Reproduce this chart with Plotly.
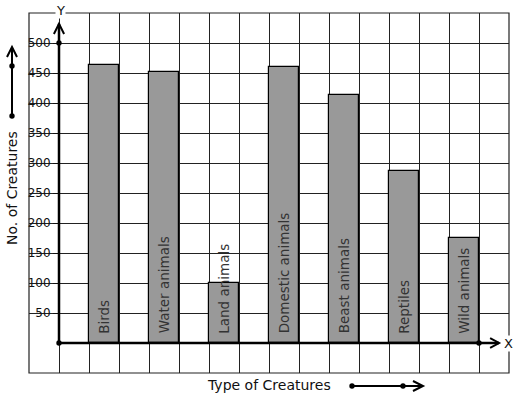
import plotly.graph_objects as go

categories = ["Birds", "Water animals", "Land animals", "Domestic animals",
              "Beast animals", "Reptiles", "Wild animals"]
values = [463, 452, 100, 460, 413, 286, 175]
y_ticks = [50, 100, 150, 200, 250, 300, 350, 400, 450, 500]

W, H = 517, 399
L, R, T, B = 29, 8, 13, 26
PW, PH = W - L - R, H - T - B

def px(x):
    return (x - L) / PW

def py(y):
    return (H - B - y) / PH

FONT = "DejaVu Sans"
xpos = [1.5 + 2 * i for i in range(len(categories))]

fig = go.Figure()
fig.add_trace(go.Bar(
    x=xpos, y=values, width=1,
    marker=dict(color="rgb(153,153,153)", line=dict(color="black", width=1.2)),
    showlegend=False, hoverinfo="skip",
))

shapes = []
# outer border
shapes.append(dict(type="rect", xref="paper", yref="paper", x0=0, x1=1, y0=0, y1=1,
                   line=dict(color="#222", width=1.2), layer="above"))
# axes
shapes.append(dict(type="line", xref="x", yref="y", x0=0, y0=0, x1=0, y1=532,
                   line=dict(color="black", width=2.5), layer="above"))
shapes.append(dict(type="path", xref="x", yref="y",
                   path="M -0.17 515 L 0 532 L 0.17 515",
                   line=dict(color="black", width=2), layer="above"))
shapes.append(dict(type="line", xref="x", yref="y", x0=0, y0=0, x1=14.67, y1=0,
                   line=dict(color="black", width=2.5), layer="above"))
shapes.append(dict(type="path", xref="x", yref="y",
                   path="M 14.37 8.3 L 14.67 0 L 14.37 -8.3",
                   line=dict(color="black", width=2), layer="above"))
# left decorative arrow
shapes.append(dict(type="line", xref="paper", yref="paper",
                   x0=px(12), y0=py(116), x1=px(12), y1=py(47),
                   line=dict(color="black", width=2)))
shapes.append(dict(type="path", xref="paper", yref="paper",
                   path=f"M {px(7)} {py(57)} L {px(12)} {py(47)} L {px(17)} {py(57)}",
                   line=dict(color="black", width=2)))
# bottom decorative arrow
shapes.append(dict(type="line", xref="paper", yref="paper",
                   x0=px(352), y0=py(386), x1=px(423), y1=py(386),
                   line=dict(color="black", width=2)))
shapes.append(dict(type="path", xref="paper", yref="paper",
                   path=f"M {px(413)} {py(381)} L {px(423)} {py(386)} L {px(413)} {py(391)}",
                   line=dict(color="black", width=2)))

def dot(xref, yref, x, y):
    return dict(type="circle", xref=xref, yref=yref, xsizemode="pixel", ysizemode="pixel",
                xanchor=x, yanchor=y, x0=-2.7, x1=2.7, y0=-2.7, y1=2.7,
                fillcolor="black", line=dict(color="black", width=0), layer="above")

shapes += [dot("x", "y", 0, 0), dot("x", "y", 0, 500), dot("x", "y", 14, 0),
           dot("paper", "paper", px(12), py(66)), dot("paper", "paper", px(12), py(116)),
           dot("paper", "paper", px(352), py(386)), dot("paper", "paper", px(403), py(386))]

annotations = []
for x, c in zip(xpos, categories):
    annotations.append(dict(x=x, y=12, xref="x", yref="y", text=c, showarrow=False,
                            textangle=-90, xanchor="center", yanchor="bottom",
                            font=dict(family=FONT, size=13.5, color="#333")))

def label(x, y, text, size, angle=0, bg=None):
    d = dict(x=px(x), y=py(y), xref="paper", yref="paper", text=text, showarrow=False,
             xanchor="center", yanchor="middle", textangle=angle,
             font=dict(family=FONT, size=size, color="#111"))
    if bg:
        d["bgcolor"] = bg
        d["borderpad"] = 0
    return d

annotations += [
    label(60.5, 10, "Y", 13, bg="white"),
    label(508, 343, "X", 13, bg="white"),
    label(12, 188, "No. of Creatures", 14, angle=-90),
    label(268.5, 385, "Type of Creatures", 14),
]

fig.update_layout(
    width=W, height=H,
    margin=dict(l=L, r=R, t=T, b=B, pad=0),
    paper_bgcolor="white", plot_bgcolor="white",
    font=dict(family=FONT, color="#111"),
    shapes=shapes, annotations=annotations,
    bargap=0,
    xaxis=dict(range=[-1, 15], tick0=0, dtick=1, showgrid=True, gridcolor="#222",
               gridwidth=1, showticklabels=False, ticks="", zeroline=False,
               showline=False, fixedrange=True),
    yaxis=dict(range=[-50, 550], tickvals=y_ticks, showgrid=True, gridcolor="#222",
               gridwidth=1, anchor="free", position=1 / 16, side="left",
               ticks="outside", ticklen=6, tickwidth=1, tickcolor="#111",
               ticklabelstandoff=0,
               tickfont=dict(family=FONT, size=12, color="#111"),
               zeroline=False, showline=False, fixedrange=True),
)

fig.write_html("out.html", config={"displayModeBar": False},
               post_script="document.body.style.margin='0px';document.body.style.padding='0px';")
